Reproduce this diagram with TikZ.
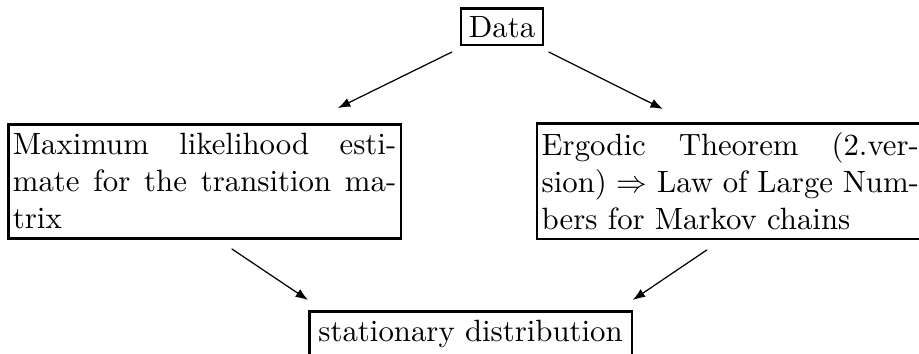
\documentclass[tikz,border=0pt]{standalone}
\usepackage{amsmath,amssymb}
\usetikzlibrary{arrows.meta}

\begin{document}
\begin{tikzpicture}[line cap=round,>={Latex[length=4pt,width=3pt]},x=1.0cm,y=1.0cm,
        box/.style={draw,line width=0.85pt,anchor=north west,inner xsep=1.5pt,inner ysep=3pt,align=justify}]
        \useasboundingbox (0,0) rectangle (10.49,4.04);
        \clip (0,0) rectangle (10.49,4.04);
        % boxes
        \node[box,inner sep=2.5pt] (data) at (5.249,3.960) {Data};
        \node[box,text width=124.5pt] (mle) at (0.080,2.636) {Maximum likelihood esti-\linebreak mate for the transition ma-\linebreak trix};
        \node[box,text width=122.5pt] (ergodic) at (6.116,2.647) {Ergodic Theorem (2.ver-\linebreak sion) $\Rightarrow$ Law of Large Num-\linebreak bers for Markov chains};
        \node[box,inner sep=3pt] (stat) at (3.515,0.502) {stationary distribution};
        % arrow ends
        \coordinate (dl) at (5.158,3.446);
        \coordinate (ml) at (3.857,2.807);
        \coordinate (dr) at (6.265,3.446);
        \coordinate (er) at (7.566,2.796);
        \coordinate (mb) at (2.647,1.198);
        \coordinate (sl) at (3.515,0.616);
        \coordinate (eb) at (8.068,1.187);
        \coordinate (sr) at (7.223,0.616);
        \draw [->] (dl) -- (ml);
        \draw [->] (dr) -- (er);
        \draw [->] (mb) -- (sl);
        \draw [->] (eb) -- (sr);
\end{tikzpicture}
\end{document}
